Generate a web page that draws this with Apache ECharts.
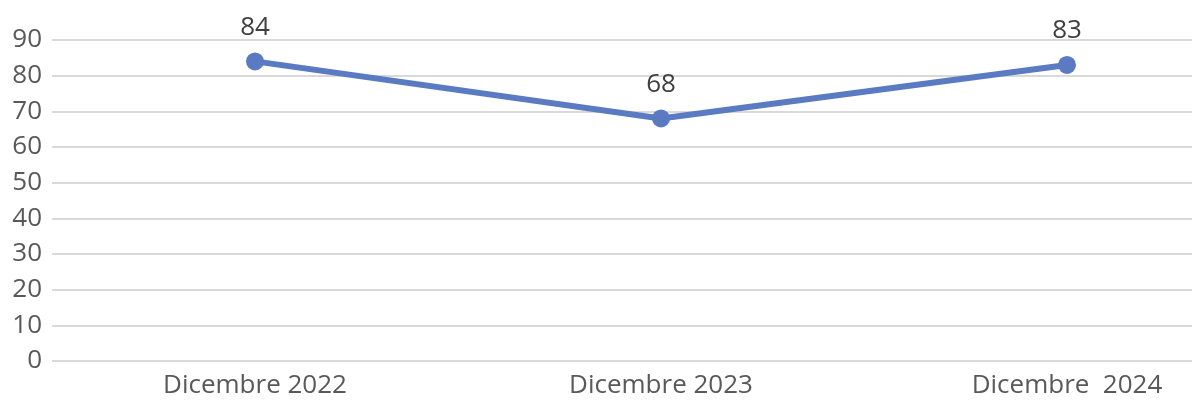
<!DOCTYPE html>
<html><head><meta charset="utf-8">
<script src="https://cdn.jsdelivr.net/npm/echarts@6/dist/echarts.min.js"></script>
<style>html,body{margin:0;padding:0;background:#fff;overflow:hidden}#c{width:1270px;height:401px}</style>
</head><body><div id="c"></div>
<script>
const categories = ['Dicembre 2022', 'Dicembre 2023', 'Dicembre  2024'];
const values = [84, 68, 83];
const yTicks = { min: 0, max: 90, interval: 10 };

const chart = echarts.init(document.getElementById('c'), null, { renderer: 'canvas' });
chart.setOption({
  animation: false,
  backgroundColor: '#ffffff',
  grid: { left: 52, right: 0, top: 40, bottom: 40, containLabel: false },
  xAxis: {
    type: 'category', data: categories, boundaryGap: true,
    axisLine: { show: false }, axisTick: { show: false },
    axisLabel: { color: '#595959', fontSize: 26, fontFamily: 'Open Sans', margin: 12 }
  },
  yAxis: {
    type: 'value', min: yTicks.min, max: yTicks.max, interval: yTicks.interval,
    axisLine: { show: false }, axisTick: { show: false },
    axisLabel: { color: '#595959', fontSize: 26, fontFamily: 'Open Sans', margin: 10 },
    splitLine: { lineStyle: { color: '#d9d9d9', width: 2 } }
  },
  series: [{
    type: 'line', data: values,
    lineStyle: { color: '#5a7bc1', width: 6 },
    itemStyle: { color: '#5a7bc1' },
    symbol: 'circle', symbolSize: 18,
    label: { show: true, position: 'top', distance: 12, color: '#404040', fontSize: 26, fontFamily: 'Open Sans' }
  }]
});
</script></body></html>
